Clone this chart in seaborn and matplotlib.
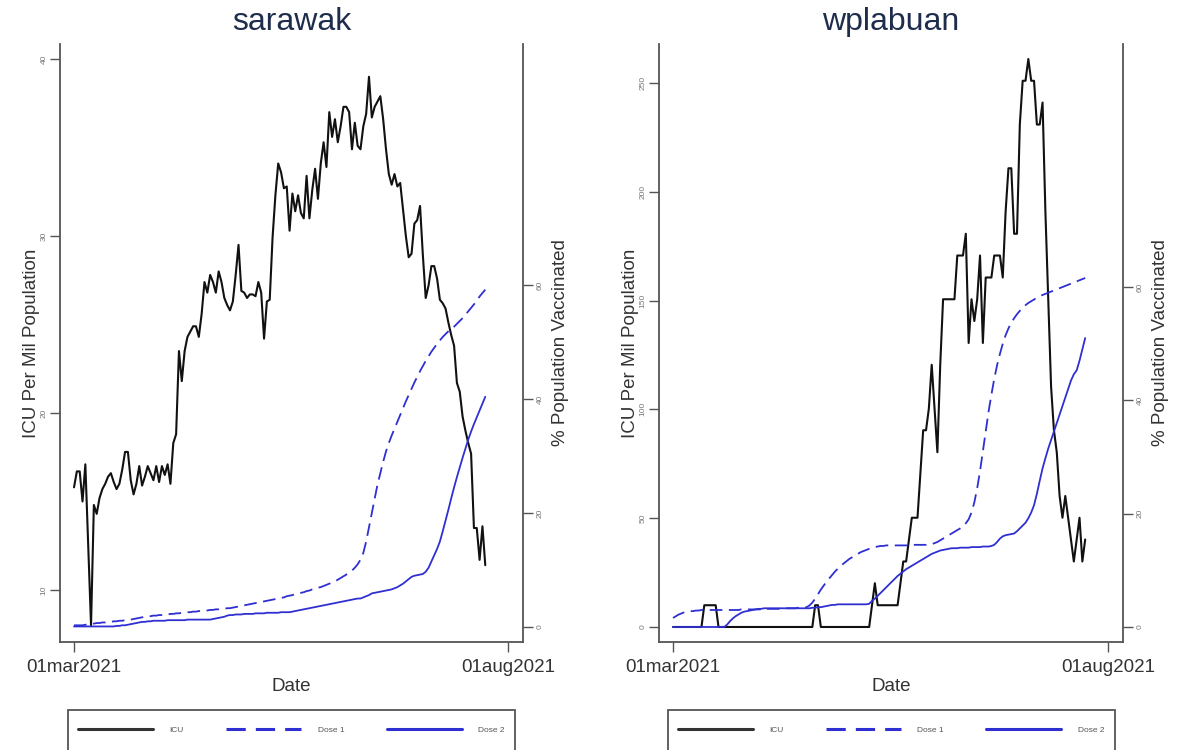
import pandas as pd
import matplotlib
matplotlib.use("Agg")
import matplotlib.pyplot as plt
from matplotlib.patches import Rectangle
from matplotlib.lines import Line2D
import seaborn as sns

# ---------------------------------------------------------------------------
# data (daily, 01mar2021 .. 24jul2021)
# ---------------------------------------------------------------------------
dates = pd.date_range("2021-03-01", periods=146, freq="D")

sarawak_icu = [
    15.8, 16.7, 16.7, 15.0, 17.1, 12.5, 8.0, 14.8, 14.3, 15.2,
    15.7, 16.0, 16.4, 16.6, 16.1, 15.7, 16.0, 16.8, 17.8, 17.8,
    16.2, 15.4, 16.0, 17.0, 15.9, 16.4, 17.0, 16.6, 16.2, 17.0,
    16.1, 17.0, 16.5, 17.1, 16.0, 18.3, 18.8, 23.5, 21.8, 23.5,
    24.3, 24.6, 24.9, 24.9, 24.3, 25.6, 27.4, 26.8, 27.8, 27.4,
    26.8, 28.0, 27.4, 26.5, 26.1, 25.8, 26.3, 27.8, 29.5, 26.9,
    26.8, 26.5, 26.7, 26.7, 26.6, 27.4, 26.8, 24.2, 26.3, 26.4,
    29.9, 32.3, 34.1, 33.6, 32.7, 32.8, 30.3, 32.4, 31.4, 32.3,
    31.3, 31.0, 33.4, 31.0, 32.6, 33.8, 32.1, 34.1, 35.3, 33.9,
    37.0, 35.6, 36.6, 35.3, 36.2, 37.3, 37.3, 37.0, 34.9, 36.4,
    35.1, 34.9, 36.2, 36.9, 39.0, 36.7, 37.3, 37.6, 37.9, 36.6,
    34.9, 33.5, 32.9, 33.5, 32.8, 33.0, 31.5, 30.0, 28.8, 29.0,
    30.7, 30.9, 31.7, 28.9, 26.5, 27.2, 28.3, 28.3, 27.6, 26.4,
    26.2, 25.9, 25.1, 24.4, 23.8, 21.7, 21.2, 19.8, 19.0, 18.3,
    17.7, 13.5, 13.5, 11.7, 13.6, 11.4,
]
sarawak_dose1 = [
    0.3, 0.3, 0.3, 0.3, 0.4, 0.4, 0.5, 0.6, 0.7, 0.7,
    0.8, 0.8, 0.9, 0.9, 1.0, 1.0, 1.1, 1.1, 1.2, 1.2,
    1.3, 1.4, 1.5, 1.6, 1.7, 1.8, 1.9, 1.9, 2.0, 2.0,
    2.1, 2.1, 2.2, 2.2, 2.3, 2.3, 2.4, 2.4, 2.5, 2.5,
    2.6, 2.6, 2.7, 2.7, 2.8, 2.8, 2.9, 2.9, 3.0, 3.0,
    3.1, 3.1, 3.2, 3.2, 3.3, 3.3, 3.4, 3.5, 3.6, 3.7,
    3.8, 3.9, 4.0, 4.1, 4.2, 4.3, 4.4, 4.5, 4.6, 4.7,
    4.8, 4.9, 5.0, 5.1, 5.2, 5.4, 5.5, 5.6, 5.8, 5.9,
    6.0, 6.1, 6.3, 6.4, 6.6, 6.7, 6.9, 7.0, 7.2, 7.4,
    7.6, 7.8, 8.0, 8.3, 8.6, 8.9, 9.2, 9.5, 9.9, 10.4,
    11.0, 11.8, 13.0, 15.0, 17.5, 20.0, 22.5, 25.0, 27.0, 29.0,
    30.8, 32.3, 33.6, 34.8, 36.0, 37.2, 38.4, 39.6, 40.7, 41.8,
    42.9, 43.9, 44.9, 45.8, 46.7, 47.5, 48.3, 49.0, 49.7, 50.3,
    50.9, 51.4, 51.9, 52.3, 52.7, 53.2, 53.7, 54.2, 54.8, 55.4,
    56.0, 56.6, 57.3, 58.0, 58.6, 59.2,
]
sarawak_dose2 = [
    0.1, 0.1, 0.1, 0.1, 0.1, 0.1, 0.1, 0.1, 0.1, 0.1,
    0.1, 0.1, 0.1, 0.1, 0.1, 0.2, 0.2, 0.3, 0.3, 0.4,
    0.5, 0.6, 0.7, 0.8, 0.9, 0.9, 1.0, 1.0, 1.1, 1.1,
    1.1, 1.1, 1.1, 1.2, 1.2, 1.2, 1.2, 1.2, 1.2, 1.2,
    1.3, 1.3, 1.3, 1.3, 1.3, 1.3, 1.3, 1.3, 1.3, 1.4,
    1.5, 1.6, 1.7, 1.8, 2.0, 2.1, 2.1, 2.2, 2.2, 2.2,
    2.3, 2.3, 2.3, 2.3, 2.4, 2.4, 2.4, 2.4, 2.5, 2.5,
    2.5, 2.5, 2.5, 2.6, 2.6, 2.6, 2.6, 2.7, 2.8, 2.9,
    3.0, 3.1, 3.2, 3.3, 3.4, 3.5, 3.6, 3.7, 3.8, 3.9,
    4.0, 4.1, 4.2, 4.3, 4.4, 4.5, 4.6, 4.7, 4.8, 4.9,
    5.0, 5.0, 5.2, 5.4, 5.6, 5.9, 6.0, 6.1, 6.2, 6.3,
    6.4, 6.5, 6.6, 6.8, 7.0, 7.3, 7.6, 8.0, 8.4, 8.8,
    9.0, 9.1, 9.2, 9.3, 9.7, 10.4, 11.5, 12.6, 13.7, 15.0,
    16.8, 18.7, 20.6, 22.6, 24.5, 26.3, 28.0, 29.7, 31.3, 32.9,
    34.3, 35.6, 36.8, 38.0, 39.2, 40.4,
]

wplabuan_icu = [
    0.0, 0.0, 0.0, 0.0, 0.0, 0.0, 0.0, 0.0, 0.0, 0.0,
    0.0, 10.0, 10.0, 10.0, 10.0, 10.0, 0.0, 0.0, 0.0, 0.0,
    0.0, 0.0, 0.0, 0.0, 0.0, 0.0, 0.0, 0.0, 0.0, 0.0,
    0.0, 0.0, 0.0, 0.0, 0.0, 0.0, 0.0, 0.0, 0.0, 0.0,
    0.0, 0.0, 0.0, 0.0, 0.0, 0.0, 0.0, 0.0, 0.0, 0.0,
    10.0, 10.0, 0.0, 0.0, 0.0, 0.0, 0.0, 0.0, 0.0, 0.0,
    0.0, 0.0, 0.0, 0.0, 0.0, 0.0, 0.0, 0.0, 0.0, 0.0,
    10.0, 20.1, 10.0, 10.0, 10.0, 10.0, 10.0, 10.0, 10.0, 10.0,
    20.1, 30.1, 30.1, 40.2, 50.2, 50.2, 50.2, 70.3, 90.4, 90.4,
    100.4, 120.5, 100.4, 80.3, 120.5, 150.6, 150.6, 150.6, 150.6, 150.6,
    170.7, 170.7, 170.7, 180.7, 130.5, 150.6, 140.6, 150.6, 170.7, 130.5,
    160.6, 160.6, 160.6, 170.7, 170.7, 170.7, 160.6, 190.8, 210.8, 210.8,
    180.7, 180.7, 230.9, 251.0, 251.0, 261.0, 251.0, 251.0, 230.9, 230.9,
    241.0, 190.8, 150.6, 110.4, 90.4, 80.3, 60.2, 50.2, 60.2, 50.2,
    40.2, 30.1, 40.2, 50.2, 30.1, 40.2,
]
wplabuan_dose1 = [
    1.6, 1.9, 2.2, 2.4, 2.6, 2.7, 2.8, 2.8, 2.9, 2.9,
    3.0, 3.0, 3.0, 3.0, 3.0, 3.0, 3.0, 3.0, 3.0, 3.0,
    3.0, 3.0, 3.0, 3.0, 3.1, 3.1, 3.1, 3.1, 3.1, 3.1,
    3.1, 3.1, 3.2, 3.2, 3.2, 3.2, 3.2, 3.2, 3.3, 3.3,
    3.3, 3.3, 3.3, 3.3, 3.4, 3.4, 3.4, 3.5, 3.8, 4.3,
    5.0, 5.8, 6.6, 7.3, 8.0, 8.6, 9.2, 9.8, 10.3, 10.8,
    11.2, 11.6, 12.0, 12.3, 12.6, 12.9, 13.2, 13.4, 13.6, 13.8,
    14.0, 14.1, 14.2, 14.3, 14.3, 14.4, 14.4, 14.4, 14.4, 14.4,
    14.4, 14.4, 14.4, 14.4, 14.5, 14.5, 14.5, 14.5, 14.5, 14.5,
    14.6, 14.6, 14.8, 15.0, 15.3, 15.6, 15.9, 16.2, 16.5, 16.8,
    17.1, 17.4, 17.8, 18.3, 19.0, 20.2, 22.0, 24.5, 27.5, 31.0,
    34.5, 38.0, 41.0, 43.8, 46.2, 48.2, 50.0, 51.5, 52.7, 53.7,
    54.5, 55.2, 55.8, 56.3, 56.8, 57.2, 57.5, 57.8, 58.1, 58.4,
    58.6, 58.8, 59.0, 59.2, 59.4, 59.6, 59.8, 60.0, 60.2, 60.4,
    60.6, 60.8, 61.0, 61.2, 61.4, 61.6,
]
wplabuan_dose2 = [
    0.0, 0.0, 0.0, 0.0, 0.0, 0.0, 0.0, 0.0, 0.0, 0.0,
    0.0, 0.0, 0.0, 0.0, 0.0, 0.0, 0.0, 0.0, 0.0, 0.4,
    1.0, 1.5, 1.9, 2.2, 2.5, 2.7, 2.8, 2.9, 3.0, 3.1,
    3.2, 3.2, 3.3, 3.3, 3.3, 3.3, 3.3, 3.3, 3.3, 3.3,
    3.3, 3.3, 3.3, 3.3, 3.3, 3.3, 3.3, 3.3, 3.3, 3.4,
    3.4, 3.5, 3.5, 3.6, 3.7, 3.8, 3.9, 3.9, 4.0, 4.0,
    4.0, 4.0, 4.0, 4.0, 4.0, 4.0, 4.0, 4.0, 4.0, 4.1,
    4.6, 5.0, 5.5, 6.0, 6.5, 7.0, 7.5, 8.0, 8.5, 9.0,
    9.4, 9.8, 10.2, 10.5, 10.8, 11.1, 11.4, 11.7, 12.0, 12.3,
    12.6, 12.9, 13.1, 13.3, 13.5, 13.6, 13.7, 13.8, 13.9, 13.9,
    13.9, 14.0, 14.0, 14.0, 14.0, 14.1, 14.1, 14.1, 14.1, 14.2,
    14.2, 14.2, 14.3, 14.5, 15.0, 15.6, 16.0, 16.2, 16.3, 16.4,
    16.5, 16.9, 17.4, 17.9, 18.4, 19.2, 20.2, 21.5, 23.5, 25.8,
    28.0, 29.8, 31.5, 33.0, 34.5, 36.0, 37.5, 39.0, 40.5, 42.0,
    43.5, 44.6, 45.3, 47.0, 49.0, 51.0,
]

sarawak_ticks = [10, 20, 30, 40]
wplabuan_ticks = [0, 50, 100, 150, 200, 250]
vacc_ticks = [0, 20, 40, 60]
date_ticks = ["2021-03-01", "2021-08-01"]
date_labels = ["01mar2021", "01aug2021"]

# ---------------------------------------------------------------------------
# style
# ---------------------------------------------------------------------------
sns.set_theme(style="white")
plt.rcParams["font.family"] = ["Liberation Sans", "DejaVu Sans"]

ICU_C = "#111111"
BLUE = "#2f2fd2"
AXIS_C = "#555555"
TEXT_C = "#333333"
DASH = (0, (7, 3.6))

W, H = 1181, 750
fig = plt.figure(figsize=(W / 100, H / 100), dpi=100)
fig.patch.set_facecolor("white")


def panel(left_px, width_px, title, icu, dose1, dose2, yticks, ylim, ylim_r):
    ax = fig.add_axes([left_px / W, 1 - 642 / H, width_px / W, 598 / H])
    axr = ax.twinx()

    sns.lineplot(x=dates, y=icu, ax=ax, color=ICU_C, linewidth=1.5)
    sns.lineplot(x=dates, y=dose1, ax=axr, color=BLUE, linewidth=1.3,
                 linestyle=DASH)
    sns.lineplot(x=dates, y=dose2, ax=axr, color=BLUE, linewidth=1.3)

    x0 = pd.Timestamp("2021-03-01") - pd.Timedelta(days=4.94)
    x1 = pd.Timestamp("2021-08-01") + pd.Timedelta(days=5.3)
    ax.set_xlim(x0, x1)
    ax.set_ylim(*ylim)
    axr.set_ylim(*ylim_r)

    ax.set_xticks([pd.Timestamp(d) for d in date_ticks])
    ax.set_xticklabels(date_labels)
    ax.set_yticks(yticks)
    ax.set_yticklabels([str(t) for t in yticks], rotation=90, va="center")
    axr.set_yticks(vacc_ticks)
    axr.set_yticklabels([str(t) for t in vacc_ticks], rotation=90, va="center")

    for s in ["top", "right"]:
        ax.spines[s].set_visible(False)
    for s in ["top", "left", "bottom"]:
        axr.spines[s].set_visible(False)
    for sp in [ax.spines["left"], ax.spines["bottom"], axr.spines["right"]]:
        sp.set_color(AXIS_C)
        sp.set_linewidth(1.3)

    ax.tick_params(axis="x", bottom=True, length=7, width=1, color=AXIS_C,
                   labelsize=13.5, labelcolor=TEXT_C, pad=5)
    ax.tick_params(axis="y", left=True, length=7, width=1, color=AXIS_C,
                   labelsize=6, labelcolor="#777777", pad=2)
    axr.tick_params(axis="y", right=True, length=7, width=1, color=AXIS_C,
                    labelsize=6, labelcolor="#777777", pad=3)

    ax.set_ylabel("ICU Per Mil Population", fontsize=13.5, color=TEXT_C)
    ax.yaxis.set_label_coords(-0.062, 0.5)
    ax.yaxis.label.set_va("center")
    axr.set_ylabel("% Population Vaccinated", fontsize=13.5, color=TEXT_C)
    axr.yaxis.set_label_coords(1.08, 0.5)
    axr.yaxis.label.set_va("center")
    ax.set_xlabel("Date", fontsize=13.5, color=TEXT_C)
    ax.xaxis.set_label_coords(0.5, -0.075)
    ax.xaxis.label.set_va("center")

    ax.text(0.5, 1.037, title, transform=ax.transAxes, ha="center",
            va="center", fontsize=23, color="#1f2d4d")

    # legend box (runs off the bottom edge, as in the original export)
    box_w = 447
    box_x = left_px + width_px / 2 - box_w / 2
    fig.patches.append(Rectangle((box_x / W, 1 - 765 / H), box_w / W, 55 / H,
                                 transform=fig.transFigure, fill=False,
                                 edgecolor="#555555", linewidth=1.3))
    handles = [
        Line2D([], [], color="#333333", linewidth=2.2),
        Line2D([], [], color=BLUE, linewidth=2.2, linestyle=(0, (6.3, 3.3))),
        Line2D([], [], color=BLUE, linewidth=2.2),
    ]
    fig.legend(handles, ["ICU", "Dose 1", "Dose 2"], ncol=3, mode="expand",
               loc="upper left",
               bbox_to_anchor=(box_x / W, 1 - 716 / H, box_w / W, 0),
               frameon=False, fontsize=6, labelcolor="#555555",
               handlelength=9.0, handletextpad=2.0, borderpad=1.2,
               borderaxespad=0)
    return ax, axr


panel(60, 463, "sarawak", sarawak_icu, sarawak_dose1, sarawak_dose2,
      sarawak_ticks, (7.06, 40.85), (-2.63, 102.3))
panel(659, 464, "wplabuan", wplabuan_icu, wplabuan_dose1, wplabuan_dose2,
      wplabuan_ticks, (-6.9, 267.9), (-2.65, 102.9))

fig.savefig("out.png", dpi=100)
